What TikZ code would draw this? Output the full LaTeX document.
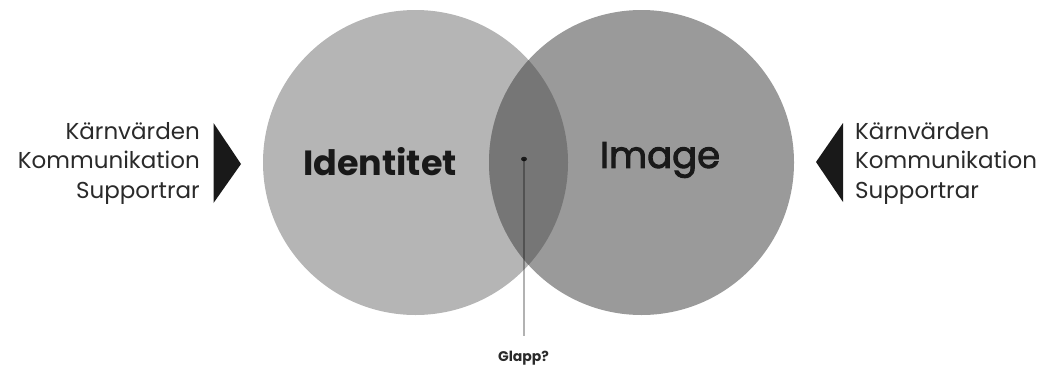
\documentclass[tikz,border=0pt]{standalone}
\usepackage{fontspec}
\setmainfont{Poppins}
\usepackage{tikz}
\usetikzlibrary{shapes.geometric, positioning, calc}

\definecolor{idgray}{HTML}{B5B5B5}
\definecolor{imgray}{HTML}{9A9A9A}
\definecolor{lensgray}{HTML}{767676}
\definecolor{textgray}{HTML}{2A2A2A}

\begin{document}
\begin{tikzpicture}[
                x=1pt, y=-1pt,
                bubble/.style={circle, inner sep=0pt, minimum size=305pt},
                sidetext/.style={text=textgray, inner sep=0pt, font=\fontsize{23}{29.5}\selectfont},
                bigword/.style={text=black!90, inner sep=0pt},
                pointer/.style={fill=black!90},
                gapline/.style={draw=black, draw opacity=0.3, line width=1.1pt, shorten >=15pt}
            ]
                \useasboundingbox (0,0) rectangle (1051,367);

                % Circles
                \node[bubble, fill=idgray] (identitet) at (415.5,162.5) {};
                \node[bubble, fill=imgray] (image) at (641.5,162.5) {};
                \begin{scope}
                    \clip (identitet.center) circle[radius=152.5];
                    \fill[lensgray] (image.center) circle[radius=152.5];
                \end{scope}

                \node[bigword, font=\bfseries\fontsize{35}{40}\selectfont] (idlabel) at (380,162) {Identitet};
                \node[bigword, font=\fontsize{37}{40}\selectfont\addfontfeature{FakeBold=2.5}] (imlabel) at (660,160) {Image};

                % Gap marker
                \node[ellipse, fill=black!90, inner sep=0pt, minimum width=6pt, minimum height=4.5pt] (gapdot) at (524,159) {};
                \node[inner sep=0pt, font=\bfseries\fontsize{14}{16}\selectfont, text=textgray, anchor=north] (glapp) at (523.5,351) {Glapp?};
                \path[gapline] (gapdot.center) -- (gapdot.center |- glapp.north);

                % Left side
                \node[sidetext, align=right, anchor=east] (lefttext) at (200,163) {Kärnvärden\\Kommunikation\\Supportrar};
                \fill[pointer] (213.5,123) -- (241,164) -- (213.5,203) -- cycle;

                % Right side
                \node[sidetext, align=left, anchor=west] (righttext) at (855,163) {Kärnvärden\\Kommunikation\\Supportrar};
                \fill[pointer] (843,123) -- (816,162) -- (843,202) -- cycle;
            \end{tikzpicture}
\end{document}
